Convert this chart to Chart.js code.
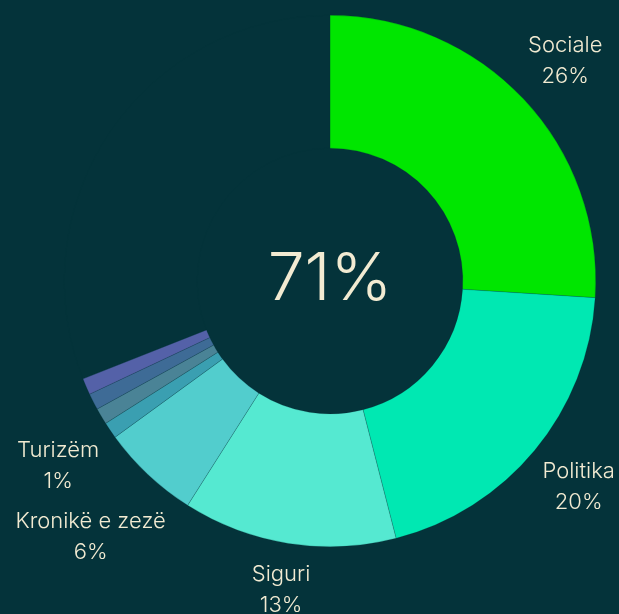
<!DOCTYPE html>
<html>
<head>
<meta charset="utf-8">
<script src="https://cdn.jsdelivr.net/npm/chart.js@4"></script>
<style>
  html, body { margin: 0; padding: 0; background: #04333a; }
  #wrap { width: 619px; height: 614px; }
</style>
</head>
<body>
<div id="wrap"><canvas id="chart" width="619" height="614"></canvas></div>
<script>
// data
const labels = ["Sociale", "Politika", "Siguri", "Kronikë e zezë", "Turizëm", "", "", ""];
const values = [26, 20, 13, 6, 1, 1, 1, 1];
const gap = 31; // empty part of the ring
const centerText = "71%";
const colors = ["#00e600", "#00e8b2", "#55e9d1", "#52cdcd", "#3a9fb1", "#4a8396", "#3e6b96", "#5461a8"];
// how far out each label sits from the ring
const labelOffsets = [57, 57, 47, 84, 63, 0, 0, 0];

const bg = "#04333a";
const textColor = "#f2ebd2";
const font = "Inter, 'DejaVu Sans', sans-serif";

// labels outside the slices
const sliceLabels = {
  id: "sliceLabels",
  afterDatasetsDraw(chart) {
    const ctx = chart.ctx;
    const meta = chart.getDatasetMeta(0);
    ctx.save();
    ctx.fillStyle = textColor;
    ctx.textAlign = "center";
    ctx.textBaseline = "middle";
    ctx.font = "300 22px " + font;
    labels.forEach((name, i) => {
      if (!name) return;
      const arc = meta.data[i];
      const mid = (arc.startAngle + arc.endAngle) / 2;
      const r = arc.outerRadius + labelOffsets[i];
      const x = arc.x + Math.cos(mid) * r;
      const y = arc.y + Math.sin(mid) * r;
      ctx.fillText(name, x, y - 15);
      ctx.fillText(values[i] + "%", x, y + 16);
    });
    // big number in the middle
    const a = meta.data[0];
    ctx.font = "300 66px " + font;
    ctx.fillText(centerText, a.x, a.y - 1);
    ctx.restore();
  }
};

new Chart(document.getElementById("chart"), {
  type: "doughnut",
  data: {
    labels: labels.concat([""]),
    datasets: [{
      data: values.concat([gap]),
      backgroundColor: colors.concat(["rgba(0,0,0,0)"]),
      borderColor: "rgba(4,51,58,0.35)",
      borderWidth: 0.6
    }]
  },
  options: {
    responsive: false,
    animation: false,
    cutout: "50%",
    layout: { padding: { left: 64, right: 23, top: 15, bottom: 67 } },
    plugins: {
      legend: { display: false },
      tooltip: { enabled: false }
    }
  },
  plugins: [sliceLabels]
});
</script>
</body>
</html>
